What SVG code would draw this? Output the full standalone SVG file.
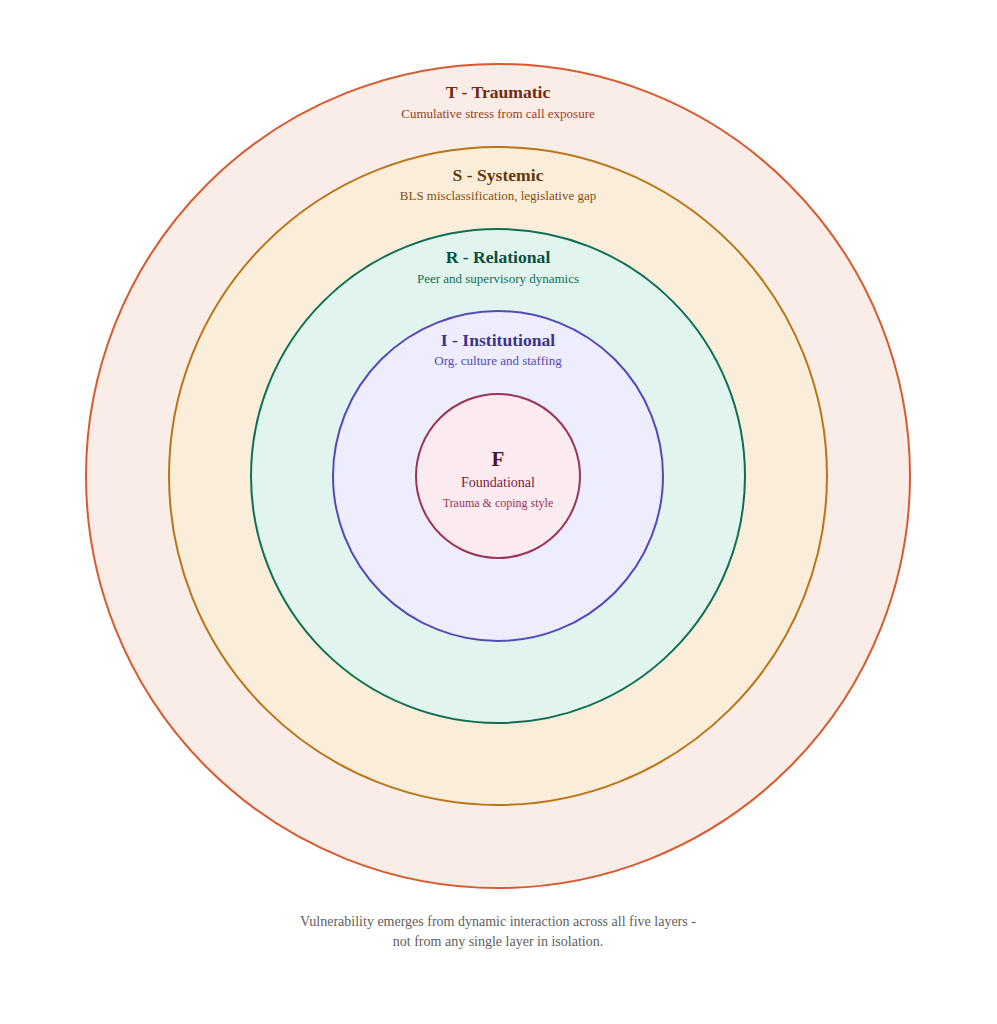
<svg xmlns="http://www.w3.org/2000/svg" width="997" height="1024" viewBox="0 0 997 1024">
  <style>
    text { font-family: "Liberation Serif", "Times New Roman", serif; text-anchor: middle; }
    .ring { stroke-width: 2; }
    .title { font-size: 17.6px; font-weight: bold; }
    .sub { font-size: 13px; }
    .caption { font-size: 14px; fill: #5F5E5A; }
  </style>
  <rect width="997" height="1024" fill="#FFFFFF"/>

  <!-- Concentric layers, outermost first -->
  <g id="layer-traumatic">
    <circle class="ring" cx="498" cy="476" r="412" fill="#FAECE7" stroke="#D85A30"/>
    <text class="title" x="498" y="98" fill="#712B13">T - Traumatic</text>
    <text class="sub" x="498" y="118" fill="#993C1D">Cumulative stress from call exposure</text>
  </g>
  <g id="layer-systemic">
    <circle class="ring" cx="498" cy="476" r="329" fill="#FAEEDA" stroke="#BA7517"/>
    <text class="title" x="498" y="181" fill="#633806">S - Systemic</text>
    <text class="sub" x="498" y="200" fill="#854F0B">BLS misclassification, legislative gap</text>
  </g>
  <g id="layer-relational">
    <circle class="ring" cx="498" cy="476" r="247" fill="#E1F5EE" stroke="#0F6E56"/>
    <text class="title" x="498" y="263" fill="#085041">R - Relational</text>
    <text class="sub" x="498" y="283" fill="#0F6E56">Peer and supervisory dynamics</text>
  </g>
  <g id="layer-institutional">
    <circle class="ring" cx="498" cy="476" r="165" fill="#EEEDFE" stroke="#534AB7"/>
    <text class="title" x="498" y="346" fill="#3C3489">I - Institutional</text>
    <text class="sub" x="498" y="365" fill="#534AB7">Org. culture and staffing</text>
  </g>
  <g id="layer-foundational">
    <circle class="ring" cx="498" cy="476" r="82" fill="#FBEAF0" stroke="#993556"/>
    <text x="498" y="466" font-size="21" font-weight="bold" fill="#4B1528">F</text>
    <text x="498" y="487" font-size="14" fill="#72243E">Foundational</text>
    <text x="498" y="507" font-size="12" fill="#993556">Trauma &amp; coping style</text>
  </g>

  <g id="caption">
    <text class="caption" x="498" y="926">Vulnerability emerges from dynamic interaction across all five layers -</text>
    <text class="caption" x="498" y="946">not from any single layer in isolation.</text>
  </g>
</svg>
